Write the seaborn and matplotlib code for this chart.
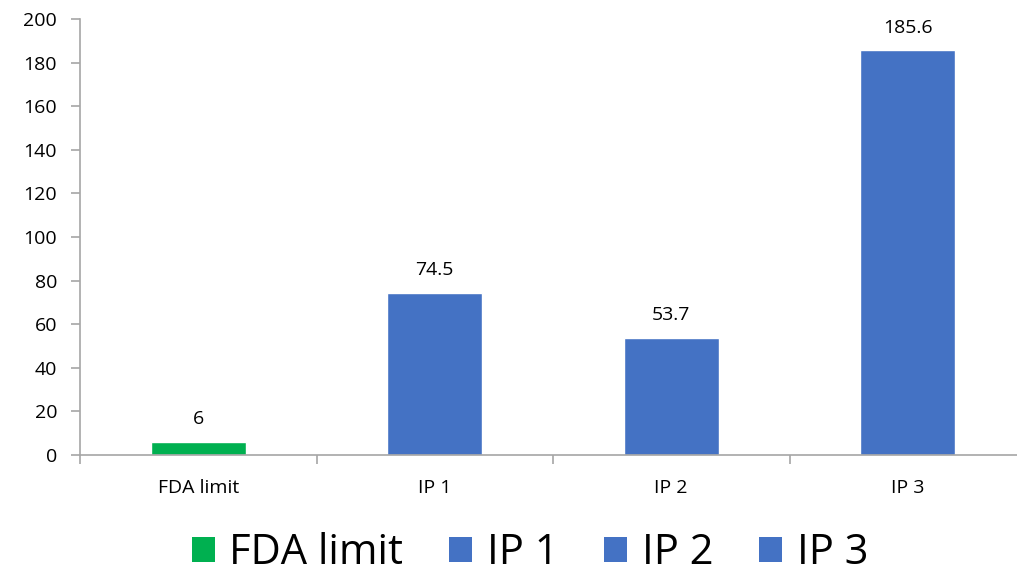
import matplotlib
matplotlib.use("Agg")
import matplotlib.pyplot as plt
import seaborn as sns
import pandas as pd
from matplotlib.patches import Patch
from matplotlib.ticker import FixedLocator

categories = ["FDA limit", "IP 1", "IP 2", "IP 3"]
values = [6, 74.5, 53.7, 185.6]
colors = ["#00B050", "#4472C4", "#4472C4", "#4472C4"]
y_ticks = [0, 20, 40, 60, 80, 100, 120, 140, 160, 180, 200]

sns.set_theme(style="white")
plt.rcParams["font.family"] = ["Open Sans", "DejaVu Sans"]
plt.rcParams["text.color"] = "black"

df = pd.DataFrame({"category": categories, "value": values})
palette = dict(zip(categories, colors))

fig = plt.figure(figsize=(10.17, 5.77), dpi=100)
ax = fig.add_axes([80 / 1017, 1 - 455 / 577, 946 / 1017, 436 / 577])

sns.barplot(data=df, x="category", y="value", hue="category", palette=palette,
            dodge=False, width=0.4, saturation=1, legend=False, ax=ax)

ax.set_ylim(0, 200)
ax.set_xlim(-0.5, len(categories) - 0.5)
ax.set_yticks(y_ticks)
ax.set_xlabel("")
ax.set_ylabel("")

for spine in ["top", "right"]:
    ax.spines[spine].set_visible(False)
for spine in ["left", "bottom"]:
    ax.spines[spine].set_color("#A6A6A6")
    ax.spines[spine].set_linewidth(1.2)

ax.tick_params(axis="y", which="major", direction="out", length=6.5, width=1.2,
               color="#A6A6A6", pad=10, labelsize=14, labelcolor="black", left=True)
ax.tick_params(axis="x", which="major", length=0, pad=17, labelsize=14, labelcolor="black")
ax.xaxis.set_minor_locator(FixedLocator([i - 0.5 for i in range(len(categories) + 1)]))
ax.tick_params(axis="x", which="minor", direction="out", length=6.5, width=1.2,
               color="#A6A6A6", bottom=True)

for i, v in enumerate(values):
    ax.annotate(f"{v:g}", (i, v), xytext=(0, 10), textcoords="offset points",
                ha="center", va="bottom", fontsize=14, color="black")

handles = [Patch(facecolor=c, edgecolor="none") for c in colors]
fig.legend(handles, categories, loc="center", bbox_to_anchor=(530 / 1017, 1 - 553 / 577),
           ncol=4, frameon=False, fontsize=30, handlelength=0.55, handleheight=0.55,
           handletextpad=0.35, columnspacing=1.1, labelcolor="black")

fig.savefig("out.png", dpi=100)
